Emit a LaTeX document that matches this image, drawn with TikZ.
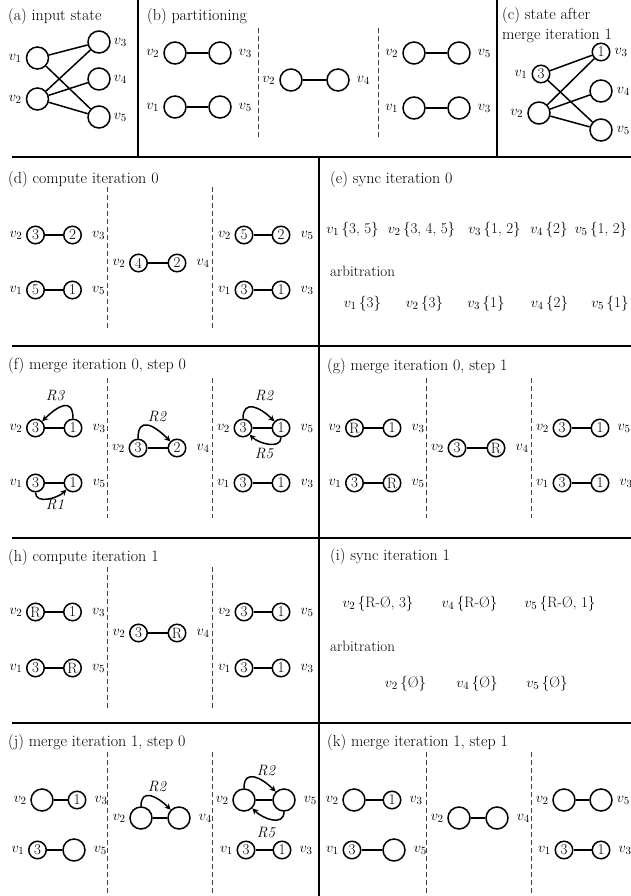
\documentclass[tikz,border=0pt]{standalone}
\usetikzlibrary{arrows.meta}
\newlength\myrgap
\newlength\mylgap
\newcommand{\fsz}{\fontsize{15}{18}\selectfont}
\newcommand{\tsz}{\fontsize{16}{19}\selectfont}
\tikzset{
 every node/.style={font=\fsz},
 border/.style={line width=1.8pt},
 sepline/.style={line width=0.9pt, black!75, dash pattern=on 5pt off 3pt},
 nd/.style={circle, draw, line width=1.5pt, minimum size=17.5pt, inner sep=0pt},
 en/.style={nd, minimum size=22pt},
 edge/.style={line width=1.5pt},
 arc/.style={line width=1.5pt, -{Stealth[length=6pt,width=6pt]}},
 lab/.style={inner sep=0pt},
 ttl/.style={anchor=base west, inner sep=0pt, font=\tsz},
 txt/.style={anchor=base, inner sep=0pt},
 rl/.style={inner sep=0pt, font=\fsz\itshape},
}
\newcommand{\Lnode}[6]{\node[#4] (#1) at (#2,-#3) {#5}; \node[lab,anchor=mid east] (#1v) at ([xshift=-\mylgap]#1.west) {$v_{#6}$};}
\newcommand{\Rnode}[6]{\node[#4] (#1) at (#2,-#3) {#5}; \node[lab,anchor=mid west] (#1v) at ([xshift=\myrgap]#1.east) {$v_{#6}$};}
\begin{document}
\begin{tikzpicture}[x=1pt,y=1pt]
\useasboundingbox (0,0) rectangle (631,-896);
% borders
\draw[border] (12,-157) -- (631,-157);
\draw[border] (12,-346) -- (631,-346);
\draw[border] (12,-538) -- (631,-538);
\draw[border] (12,-723) -- (631,-723);
\draw[border] (138,0) -- (138,-157);
\draw[border] (497,0) -- (497,-157);
\draw[border] (319,-157) -- (319,-896);
% titles
\node[ttl] (ta) at (8,-21) {(a) input state};
\node[ttl] (tb) at (147,-21) {(b) partitioning};
\node[ttl] (tc) at (502,-20) {(c) state after};
\node[ttl] (tc2) at (502,-40) {merge iteration 1};
\node[ttl] (td) at (8,-184) {(d) compute iteration 0};
\node[ttl] (te) at (330,-183) {(e) sync iteration 0};
\node[ttl] (tf) at (8,-369) {(f) merge iteration 0, step 0};
\node[ttl] (tg) at (327,-370) {(g) merge iteration 0, step 1};
\node[ttl] (th) at (8,-561) {(h) compute iteration 1};
\node[ttl] (ti) at (330,-560) {(i) sync iteration 1};
\node[ttl] (tj) at (8,-746) {(j) merge iteration 1, step 0};
\node[ttl] (tk) at (327,-746) {(k) merge iteration 1, step 1};
% (a)
\setlength\mylgap{4pt}\setlength\myrgap{3pt}
\Lnode{a1}{37.5}{58}{en}{}{1}
\Lnode{a2}{37.5}{99}{en}{}{2}
\Rnode{a3}{99}{42}{en}{}{3}
\Rnode{a4}{99}{79}{en}{}{4}
\Rnode{a5}{99}{117}{en}{}{5}
\draw[edge] (a1)--(a3) (a1)--(a5) (a2)--(a3) (a2)--(a4) (a2)--(a5);
% (b)
\setlength\myrgap{7pt}
\Lnode{b1}{175}{53}{en}{}{2} \Rnode{b2}{220}{53}{en}{}{3}
\Lnode{b3}{175}{107}{en}{}{1} \Rnode{b4}{220}{107}{en}{}{5}
\Lnode{b5}{291}{80}{en}{}{2} \Rnode{b6}{338}{80}{en}{}{4}
\Lnode{b7}{414}{53}{en}{}{2} \Rnode{b8}{459}{53}{en}{}{5}
\Lnode{b9}{414}{108}{en}{}{1} \Rnode{b10}{459}{108}{en}{}{3}
\draw[edge] (b1)--(b2) (b3)--(b4) (b5)--(b6) (b7)--(b8) (b9)--(b10);
\draw[sepline] (258,-28) -- (258,-138);
\draw[sepline] (378,-28) -- (378,-138);
% (c)
\setlength\myrgap{4pt}
\Lnode{c1}{541}{74}{nd}{3}{1}
\Lnode{c2}{539}{113}{en}{}{2}
\Rnode{c3}{601}{52}{nd}{1}{3}
\Rnode{c4}{601}{91}{en}{}{4}
\Rnode{c5}{601}{130}{en}{}{5}
\draw[edge] (c1)--(c3) (c1)--(c5) (c2)--(c3) (c2)--(c4) (c2)--(c5);
% (d)
\setlength\mylgap{3.5pt}\setlength\myrgap{10pt}
\Lnode{d1}{35.5}{235}{nd}{3}{2} \Rnode{d2}{72.5}{235}{nd}{2}{3}
\Lnode{d3}{35.5}{290}{nd}{5}{1} \Rnode{d4}{72.5}{290}{nd}{1}{5}
\Lnode{d5}{138.5}{263}{nd}{4}{2} \Rnode{d6}{177}{263}{nd}{2}{4}
\Lnode{d7}{244}{235}{nd}{5}{2} \Rnode{d8}{281}{235}{nd}{2}{5}
\Lnode{d9}{244}{290}{nd}{3}{1} \Rnode{d10}{281}{290}{nd}{1}{3}
\draw[edge] (d1)--(d2) (d3)--(d4) (d5)--(d6) (d7)--(d8) (d9)--(d10);
\draw[sepline] (107,-187) -- (107,-328);
\draw[sepline] (212,-187) -- (212,-328);
% (e)
\node[txt] (e1) at (352.5,-233) {$v_1$\,\{3, 5\}};
\node[txt] (e2) at (421.5,-233) {$v_2$\,\{3, 4, 5\}};
\node[txt] (e3) at (494.5,-233) {$v_3$\,\{1, 2\}};
\node[txt] (e4) at (549,-233) {$v_4$\,\{2\}};
\node[txt] (e5) at (601,-233) {$v_5$\,\{1, 2\}};
\node[ttl,font=\fsz] (ea) at (330,-276) {arbitration};
\node[txt] (e6) at (362.5,-307) {$v_1$\,\{3\}};
\node[txt] (e7) at (424.5,-307) {$v_2$\,\{3\}};
\node[txt] (e8) at (486,-307) {$v_3$\,\{1\}};
\node[txt] (e9) at (549.5,-307) {$v_4$\,\{2\}};
\node[txt] (e10) at (610,-307) {$v_5$\,\{1\}};
% (f)
\Lnode{f1}{35.5}{428}{nd}{3}{2} \Rnode{f2}{73}{428}{nd}{1}{3}
\Lnode{f3}{35.5}{483}{nd}{3}{1} \Rnode{f4}{73}{483}{nd}{1}{5}
\Lnode{f5}{138}{448}{nd}{3}{2} \Rnode{f6}{177}{448}{nd}{2}{4}
\Lnode{f7}{243}{428}{nd}{3}{2} \Rnode{f8}{281}{428}{nd}{1}{5}
\Lnode{f9}{243}{483}{nd}{3}{1} \Rnode{f10}{281}{483}{nd}{1}{3}
\draw[edge] (f1)--(f2) (f3)--(f4) (f5)--(f6) (f7)--(f8) (f9)--(f10);
\draw[arc] (f2.north) to[out=90,in=45,looseness=1.8] (f1.45);
\node[rl] (fr3) at (55,-396) {R3};
\draw[arc] (f3.south) to[out=-90,in=-135,looseness=1.0] (f4.-135);
\node[rl] (fr1) at (55,-505) {R1};
\draw[arc] (f5.north) to[out=90,in=135,looseness=1.8] (f6.135);
\node[rl] (fr2a) at (157,-417) {R2};
\draw[arc] (f7.north) to[out=90,in=135,looseness=1.6] (f8.135);
\node[rl] (fr2b) at (264,-396) {R2};
\draw[arc] (f8.south) to[out=-90,in=-45,looseness=1.0] (f7.-45);
\node[rl] (fr5) at (264,-454) {R5};
\draw[sepline] (107,-378) -- (107,-518);
\draw[sepline] (212,-378) -- (212,-518);
% (g)
\Lnode{g1}{354.5}{428}{nd}{R}{2} \Rnode{g2}{392}{428}{nd}{1}{3}
\Lnode{g3}{354.5}{483}{nd}{3}{1} \Rnode{g4}{392}{483}{nd}{R}{5}
\Lnode{g5}{457}{448}{nd}{3}{2} \Rnode{g6}{496}{448}{nd}{R}{4}
\Lnode{g7}{562}{428}{nd}{3}{2} \Rnode{g9x}{600}{483}{nd}{1}{3}
\setlength\myrgap{8pt}
\Rnode{g8}{600}{428}{nd}{1}{5}
\Lnode{g9}{562}{483}{nd}{3}{1}
\setlength\myrgap{10pt}
\draw[edge] (g1)--(g2) (g3)--(g4) (g5)--(g6) (g7)--(g8) (g9)--(g9x);
\draw[sepline] (426,-378) -- (426,-518);
\draw[sepline] (531,-378) -- (531,-518);
% (h)
\Lnode{h1}{35.5}{612}{nd}{R}{2} \Rnode{h2}{72.5}{612}{nd}{1}{3}
\Lnode{h3}{35.5}{668}{nd}{3}{1} \Rnode{h4}{72.5}{668}{nd}{R}{5}
\Lnode{h5}{138.5}{633}{nd}{3}{2} \Rnode{h6}{177}{633}{nd}{R}{4}
\Lnode{h7}{244}{612}{nd}{3}{2} \Rnode{h8}{281}{612}{nd}{1}{5}
\Lnode{h9}{244}{668}{nd}{3}{1} \Rnode{h10}{281}{668}{nd}{1}{3}
\draw[edge] (h1)--(h2) (h3)--(h4) (h5)--(h6) (h7)--(h8) (h9)--(h10);
\draw[sepline] (107,-567) -- (107,-708);
\draw[sepline] (212,-567) -- (212,-708);
% (i)
\node[txt] (i1) at (378,-607) {$v_2$\,\{R-\O, 3\}};
\node[txt] (i2) at (469.5,-607) {$v_4$\,\{R-\O\}};
\node[txt] (i3) at (560,-607) {$v_5$\,\{R-\O, 1\}};
\node[ttl,font=\fsz] (ia) at (330,-651) {arbitration};
\node[txt] (i4) at (405.5,-687) {$v_2$\,\{\O\}};
\node[txt] (i5) at (477,-687) {$v_4$\,\{\O\}};
\node[txt] (i6) at (547,-687) {$v_5$\,\{\O\}};
% (j)
\setlength\myrgap{8pt}
\Lnode{j1}{42}{800}{en}{}{2} \Rnode{j2}{77}{800}{nd}{1}{3}
\Lnode{j3}{37.5}{850}{nd}{3}{1} \Rnode{j4}{74}{850}{en}{}{5}
\Lnode{j5}{141}{818}{en}{}{2} \Rnode{j6}{179}{818}{en}{}{4}
\Lnode{j7}{244}{800}{en}{}{2} \Rnode{j8}{284}{800}{en}{}{5}
\Lnode{j9}{246}{850}{nd}{3}{1} \Rnode{j10}{282}{850}{nd}{1}{3}
\draw[edge] (j1)--(j2) (j3)--(j4) (j5)--(j6) (j7)--(j8) (j9)--(j10);
\draw[arc] (j5.north) to[out=90,in=135,looseness=1.6] (j6.135);
\node[rl] (jr2a) at (157,-787) {R2};
\draw[arc] (j7.north) to[out=90,in=135,looseness=1.6] (j8.135);
\node[rl] (jr2b) at (266,-771) {R2};
\draw[arc] (j8.south) to[out=-90,in=-45,looseness=1.2] (j7.-45);
\node[rl] (jr5) at (266,-833) {R5};
\draw[sepline] (107,-752) -- (107,-896);
\draw[sepline] (212,-752) -- (212,-896);
% (k)
\Lnode{k1}{354}{800}{en}{}{2} \Rnode{k2}{392}{800}{nd}{1}{3}
\Lnode{k3}{352}{850}{nd}{3}{1} \Rnode{k4}{394}{850}{en}{}{5}
\Lnode{k5}{459}{818}{en}{}{2} \Rnode{k6}{497}{818}{en}{}{4}
\Lnode{k7}{564}{800}{en}{}{2}
\Lnode{k9}{564}{850}{nd}{3}{1} \Rnode{k10}{601}{850}{nd}{1}{3}
\setlength\myrgap{4pt}
\Rnode{k8}{601}{800}{en}{}{5}
\draw[edge] (k1)--(k2) (k3)--(k4) (k5)--(k6) (k7)--(k8) (k9)--(k10);
\draw[sepline] (426,-752) -- (426,-896);
\draw[sepline] (531,-752) -- (531,-896);
\end{tikzpicture}
\end{document}
